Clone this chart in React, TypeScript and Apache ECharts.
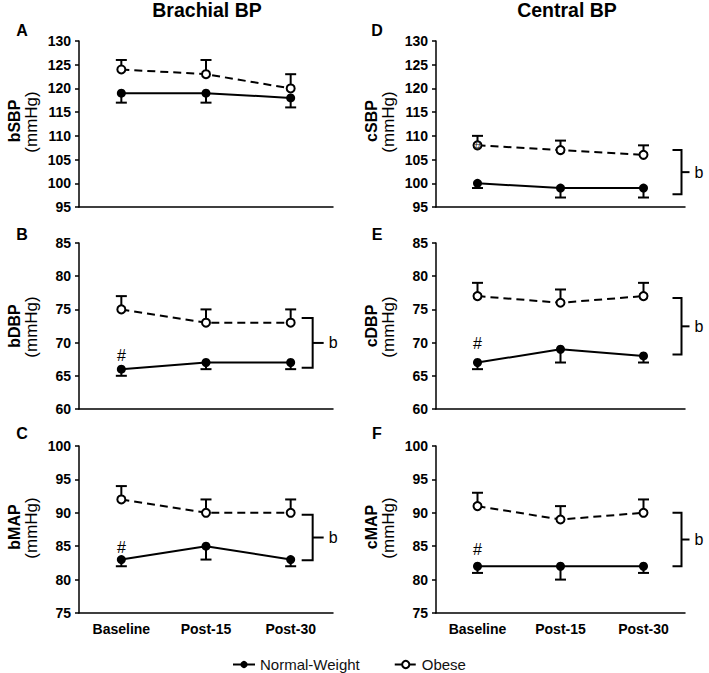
import React, { useEffect, useRef } from "react";
import * as echarts from "echarts";

const FONT = '"Liberation Sans", Arial, Helvetica, sans-serif';

const categories = ["Baseline", "Post-15", "Post-30"];
const seriesNames = ["Normal-Weight", "Obese"];

// Brachial
const bSBPNormal = [119, 119, 118];
const bSBPNormalSE = [2, 2, 2];
const bSBPObese = [124, 123, 120];
const bSBPObeseSE = [2, 3, 3];

const bDBPNormal = [66, 67, 67];
const bDBPNormalSE = [1, 1, 1];
const bDBPObese = [75, 73, 73];
const bDBPObeseSE = [2, 2, 2];

const bMAPNormal = [83, 85, 83];
const bMAPNormalSE = [1, 2, 1];
const bMAPObese = [92, 90, 90];
const bMAPObeseSE = [2, 2, 2];

// Central
const cSBPNormal = [100, 99, 99];
const cSBPNormalSE = [1, 2, 2];
const cSBPObese = [108, 107, 106];
const cSBPObeseSE = [2, 2, 2];

const cDBPNormal = [67, 69, 68];
const cDBPNormalSE = [1, 2, 1];
const cDBPObese = [77, 76, 77];
const cDBPObeseSE = [2, 2, 2];

const cMAPNormal = [82, 82, 82];
const cMAPNormalSE = [1, 2, 1];
const cMAPObese = [91, 89, 90];
const cMAPObeseSE = [2, 2, 2];

// y axis ranges [min, max]
const sbpRange = [95, 130];
const dbpRange = [60, 85];
const mapRange = [75, 100];
const yInterval = 5;

// significance brackets [top, bottom]
const bracketB = [73.7, 66.2];
const bracketC = [89.7, 82.9];
const bracketD = [107, 97.7];
const bracketE = [76.7, 68.2];
const bracketF = [90, 82];

const colTitles = ["Brachial BP", "Central BP"];

type Panel = {
  letter: string;
  name: string;
  normal: number[];
  normalSE: number[];
  obese: number[];
  obeseSE: number[];
  range: number[];
  col: number;
  row: number;
  bracket: number[] | null;
  hashNormal: boolean;
  hashObese: boolean;
  hashDist: number;
};

const panels: Panel[] = [
  { letter: "A", name: "bSBP", normal: bSBPNormal, normalSE: bSBPNormalSE, obese: bSBPObese, obeseSE: bSBPObeseSE, range: sbpRange, col: 0, row: 0, bracket: null, hashNormal: false, hashObese: false, hashDist: 0 },
  { letter: "B", name: "bDBP", normal: bDBPNormal, normalSE: bDBPNormalSE, obese: bDBPObese, obeseSE: bDBPObeseSE, range: dbpRange, col: 0, row: 1, bracket: bracketB, hashNormal: true, hashObese: false, hashDist: 1 },
  { letter: "C", name: "bMAP", normal: bMAPNormal, normalSE: bMAPNormalSE, obese: bMAPObese, obeseSE: bMAPObeseSE, range: mapRange, col: 0, row: 2, bracket: bracketC, hashNormal: true, hashObese: false, hashDist: 0 },
  { letter: "D", name: "cSBP", normal: cSBPNormal, normalSE: cSBPNormalSE, obese: cSBPObese, obeseSE: cSBPObeseSE, range: sbpRange, col: 1, row: 0, bracket: bracketD, hashNormal: false, hashObese: true, hashDist: 0 },
  { letter: "E", name: "cDBP", normal: cDBPNormal, normalSE: cDBPNormalSE, obese: cDBPObese, obeseSE: cDBPObeseSE, range: dbpRange, col: 1, row: 1, bracket: bracketE, hashNormal: true, hashObese: false, hashDist: 7 },
  { letter: "F", name: "cMAP", normal: cMAPNormal, normalSE: cMAPNormalSE, obese: cMAPObese, obeseSE: cMAPObeseSE, range: mapRange, col: 1, row: 2, bracket: bracketF, hashNormal: true, hashObese: false, hashDist: 4 },
];

const COLS = [
  { left: 79, width: 254, bracketOffset: 22, letterX: 22, titleX: 207 },
  { left: 436, width: 249, bracketOffset: 38, letterX: 377, titleX: 567 },
];
const ROWS = [
  { top: 41, height: 166, letterY: 30, nameY: 121 },
  { top: 243, height: 166, letterY: 234, nameY: 326 },
  { top: 446, height: 167, letterY: 433, nameY: 527 },
];

function buildOption() {
  const grid: any[] = [];
  const xAxis: any[] = [];
  const yAxis: any[] = [];
  const series: any[] = [];
  const graphic: any[] = [];

  panels.forEach((p, i) => {
    const c = COLS[p.col];
    const r = ROWS[p.row];
    grid.push({ left: c.left, top: r.top, width: c.width, height: r.height, containLabel: false });
    xAxis.push({
      type: "category",
      gridIndex: i,
      data: categories,
      boundaryGap: true,
      axisLine: { lineStyle: { color: "#000", width: 1.5 } },
      axisTick: { alignWithLabel: true, length: 4, lineStyle: { color: "#000", width: 1.5 } },
      axisLabel: {
        show: p.row === 2,
        color: "#000",
        fontWeight: "bold",
        fontSize: 14,
        fontFamily: FONT,
        margin: 9,
      },
      splitLine: { show: false },
    });
    yAxis.push({
      type: "value",
      gridIndex: i,
      min: p.range[0],
      max: p.range[1],
      interval: yInterval,
      axisLine: { show: true, lineStyle: { color: "#000", width: 1.5 } },
      axisTick: { show: true, length: 4, lineStyle: { color: "#000", width: 1.5 } },
      axisLabel: { color: "#000", fontWeight: "bold", fontSize: 14, fontFamily: FONT, margin: 8 },
      splitLine: { show: false },
    });

    // error bars
    const errData: number[][] = [];
    p.normal.forEach((v, k) => errData.push([k, v, -p.normalSE[k]]));
    p.obese.forEach((v, k) => errData.push([k, v, p.obeseSE[k]]));
    series.push({
      type: "custom",
      name: "err" + p.letter,
      xAxisIndex: i,
      yAxisIndex: i,
      z: 1,
      silent: true,
      encode: { x: 0, y: 1 },
      data: errData,
      renderItem: (params: any, api: any) => {
        const x = api.value(0);
        const y = api.value(1);
        const e = api.value(2);
        const p0 = api.coord([x, y]);
        const p1 = api.coord([x, y + e]);
        const style = { stroke: "#000", lineWidth: 2 };
        return {
          type: "group",
          children: [
            { type: "line", shape: { x1: p0[0], y1: p0[1], x2: p1[0], y2: p1[1] }, style },
            { type: "line", shape: { x1: p1[0] - 5.5, y1: p1[1], x2: p1[0] + 5.5, y2: p1[1] }, style },
          ],
        };
      },
    });

    const fontLabel = { fontSize: 16, color: "#000", fontFamily: FONT, formatter: "#" };
    series.push({
      type: "line",
      name: seriesNames[0],
      xAxisIndex: i,
      yAxisIndex: i,
      z: 3,
      symbol: "circle",
      symbolSize: 9,
      itemStyle: { color: "#000" },
      lineStyle: { color: "#000", width: 2 },
      data: p.normal.map((v, k) =>
        p.hashNormal && k === 0
          ? { value: v, label: { show: true, position: "top", distance: p.hashDist, ...fontLabel } }
          : v
      ),
    });
    series.push({
      type: "line",
      name: seriesNames[1],
      xAxisIndex: i,
      yAxisIndex: i,
      z: 3,
      symbol: "circle",
      symbolSize: 8,
      itemStyle: { color: "#fff", borderColor: "#000", borderWidth: 2 },
      lineStyle: { color: "#000", width: 2, type: [8, 5] },
      data: p.obese.map((v, k) =>
        p.hashObese && k === 0
          ? { value: v, label: { show: true, position: "inside", ...fontLabel, fontSize: 13, color: "#222" } }
          : v
      ),
    });

    if (p.bracket) {
      const off = c.bracketOffset;
      series.push({
        type: "custom",
        name: "bracket" + p.letter,
        xAxisIndex: i,
        yAxisIndex: i,
        z: 2,
        silent: true,
        clip: false,
        encode: { x: 0, y: [1, 2] },
        data: [[2, p.bracket[0], p.bracket[1]]],
        renderItem: (params: any, api: any) => {
          const pt = api.coord([api.value(0), api.value(1)]);
          const pb = api.coord([api.value(0), api.value(2)]);
          const x = pt[0] + off;
          const arm = p.col === 0 ? 11 : 9;
          const tick = p.col === 0 ? 11 : 8;
          const midY = (pt[1] + pb[1]) / 2;
          const style = { stroke: "#000", lineWidth: 2 };
          return {
            type: "group",
            children: [
              { type: "polyline", shape: { points: [[x - arm, pt[1]], [x, pt[1]], [x, pb[1]], [x - arm, pb[1]]] }, style: { ...style, fill: null } },
              { type: "line", shape: { x1: x, y1: midY, x2: x + tick, y2: midY }, style },
              {
                type: "text",
                x: x + tick + 5,
                y: midY,
                style: { text: "b", fill: "#000", fontSize: 16, fontFamily: FONT, align: "left", verticalAlign: "middle" },
              },
            ],
          };
        },
      });
    }

    // panel letter
    graphic.push({
      type: "text",
      x: c.letterX,
      y: r.letterY,
      style: { text: p.letter, fill: "#000", fontSize: 16, fontWeight: "bold", fontFamily: FONT, align: "center", verticalAlign: "middle" },
    });
    // y axis name (two lines, rotated)
    graphic.push({
      type: "text",
      x: c.left - 65,
      y: r.nameY,
      rotation: Math.PI / 2,
      style: { text: p.name, fill: "#000", fontSize: 16, fontWeight: "bold", fontFamily: FONT, align: "center", verticalAlign: "middle" },
    });
    graphic.push({
      type: "text",
      x: c.left - 48,
      y: r.nameY + 1,
      rotation: Math.PI / 2,
      style: { text: "(mmHg)", fill: "#000", fontSize: 17, fontFamily: FONT, align: "center", verticalAlign: "middle" },
    });
  });

  COLS.forEach((c, k) => {
    graphic.push({
      type: "text",
      x: c.titleX,
      y: 10,
      style: { text: colTitles[k], fill: "#000", fontSize: 19.5, fontWeight: "bold", fontFamily: FONT, align: "center", verticalAlign: "middle" },
    });
  });

  return {
    animation: false,
    backgroundColor: "#fff",
    textStyle: { fontFamily: FONT },
    grid,
    xAxis,
    yAxis,
    series,
    graphic,
    legend: {
      data: seriesNames,
      left: 232,
      top: 657,
      padding: 0,
      itemWidth: 22,
      itemHeight: 9,
      itemGap: 34,
      selectedMode: false,
      textStyle: { fontSize: 15, color: "#111", fontFamily: FONT },
    },
  };
}

export default function App() {
  const ref = useRef<HTMLDivElement>(null);
  useEffect(() => {
    document.body.style.margin = "0";
    if (!ref.current) return;
    const chart = echarts.init(ref.current, undefined, { renderer: "svg" });
    chart.setOption(buildOption() as any);
    return () => chart.dispose();
  }, []);
  return <div ref={ref} style={{ width: 709, height: 673 }} />;
}
